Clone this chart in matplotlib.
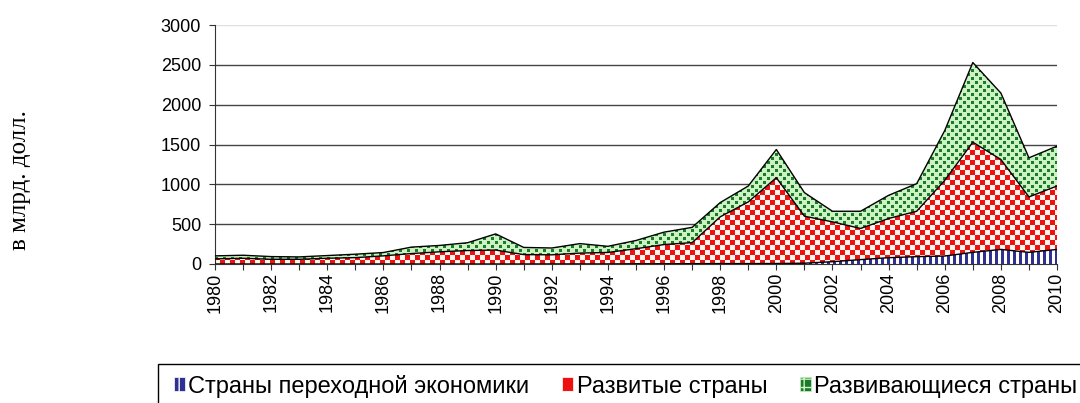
import numpy as np
import matplotlib
matplotlib.use("Agg")
import matplotlib.pyplot as plt
from matplotlib.patches import Patch, Rectangle

plt.rcParams['font.family'] = ['Liberation Sans', 'DejaVu Sans']

# data (billions USD)
years = list(range(1980, 2011))
transition = [0, 0, 0, 0, 0, 0, 0, 0, 0, 0, 0, 0, 1, 1, 1, 3, 3, 4, 5, 5,
              6, 10, 29, 55, 79, 92, 100, 146, 183, 146, 183]
developed = [64, 72, 59, 59, 72, 80, 102, 131, 153, 169, 175, 118, 114, 136, 144, 189,
             241, 264, 587, 774, 1077, 590, 500, 391, 492, 570, 950, 1383, 1129, 696, 796]
developing = [38, 38, 34, 30, 34, 43, 42, 81, 80, 98, 203, 90, 86, 119, 77, 103,
              156, 192, 179, 200, 354, 296, 133, 216, 291, 346, 625, 1000, 834, 491, 500]
labels = ["Страны переходной экономики", "Развитые страны", "Развивающиеся страны"]
ylabel = "в млрд. долл."

W, H = 1080, 403
fig = plt.figure(figsize=(W / 100, H / 100), dpi=100)
ax = fig.add_axes([215 / W, 1 - 264 / H, 842 / W, 239 / H])

# pixel patterns (one cell per screen pixel of the axes)
ph, pw = 239, 842
ii, jj = np.mgrid[0:ph, 0:pw]


def pattern(mask, fg, bg):
    img = np.empty((ph, pw, 3))
    img[:] = matplotlib.colors.to_rgb(bg)
    img[mask] = matplotlib.colors.to_rgb(fg)
    return img


pat_blue = pattern((jj % 6) < 3, '#2e3192', '#ffffff')
pat_red = pattern(((ii // 5 + jj // 5) % 2) == 0, '#ee1111', '#fff6ee')
dots = (((ii % 8) < 3) & ((jj % 8) < 3)) | (((ii % 8) >= 4) & ((ii % 8) < 7) & ((jj % 8) >= 4) & ((jj % 8) < 7))
pat_green = pattern(dots, '#1b7a2a', '#ccf2c4')

y = np.array(years)
b1 = np.array(transition)
b2 = b1 + np.array(developed)
b3 = b2 + np.array(developing)

for lo, hi, pat in [(np.zeros_like(b1), b1, pat_blue), (b1, b2, pat_red), (b2, b3, pat_green)]:
    poly = ax.fill_between(y, lo, hi, facecolor='none', edgecolor='none')
    im = ax.imshow(pat, extent=[1980, 2010, 0, 3000], aspect='auto',
                   interpolation='nearest', zorder=2)
    im.set_clip_path(poly.get_paths()[0], transform=ax.transData)

for top in (b1, b2, b3):
    ax.plot(y, top, color='black', lw=1, zorder=3)

ax.set_xlim(1980, 2010)
ax.set_ylim(0, 3000)
ax.set_yticks(range(0, 3001, 500))
for v in range(500, 3001, 500):
    ax.axhline(v, color='#e0e0e0' if v == 3000 else '#444444', lw=1, zorder=1)

ax.set_xticks(years)
ax.set_xticklabels([str(t) if t % 2 == 0 else '' for t in years], rotation=90)
ax.tick_params(axis='both', labelsize=13, color='#333333', length=4)
ax.tick_params(axis='y', pad=6)
ax.tick_params(axis='x', pad=2)
for s in ['top', 'right']:
    ax.spines[s].set_visible(False)
ax.spines['left'].set_color('#333333')
ax.spines['bottom'].set_color('#333333')

fig.text(20 / W, 1 - 180 / H, ylabel, rotation=90, va='center', ha='center',
         fontsize=18, family='Liberation Serif')

# legend box (runs off the bottom/right edge)
fig.add_artist(Rectangle((158 / W, -0.2), 2, 0.2 + (1 - 364 / H), transform=fig.transFigure,
                         fill=False, edgecolor='black', lw=1))
handles = [Patch(facecolor='#2e3192', edgecolor='#ffffff', hatch='||', lw=0.5),
           Patch(facecolor='#ee1111', edgecolor='#ffffff', hatch='+', lw=0.5),
           Patch(facecolor='#1b7a2a', edgecolor='#ccf2c4', hatch='++', lw=0.5)]
fig.legend(handles, labels, ncol=3, frameon=False, loc='center left',
           bbox_to_anchor=(174 / W, 1 - 386 / H), fontsize=17,
           handlelength=0.45, handleheight=0.5, handletextpad=0.15,
           columnspacing=1.4, borderpad=0, borderaxespad=0)

fig.savefig('out.png', dpi=100)
